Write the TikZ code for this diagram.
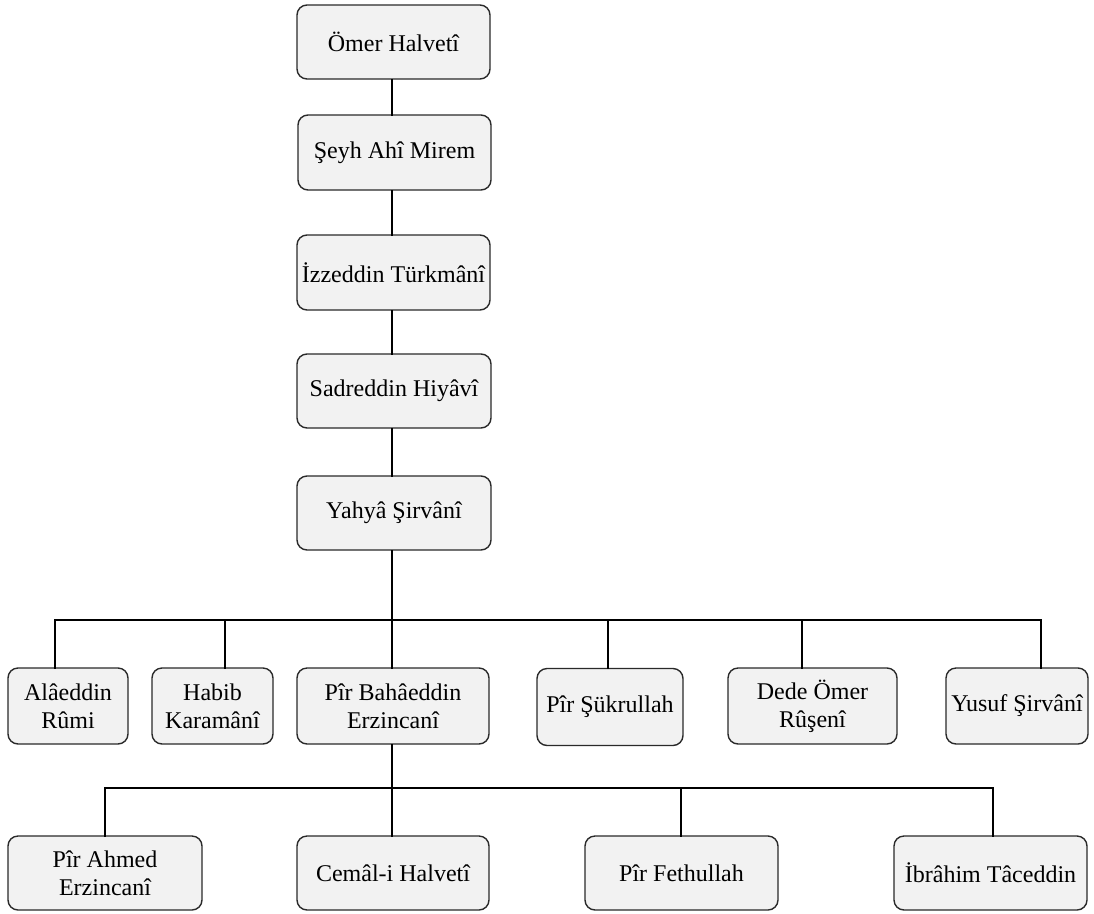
\documentclass[tikz,border=0pt]{standalone}
\usepackage{fontspec}
\setmainfont{Liberation Serif}
\definecolor{boxfill}{HTML}{F2F2F2}
\definecolor{boxline}{HTML}{2A2A2A}
\begin{document}
\begin{tikzpicture}[x=1pt,y=-1pt,
  box/.style={draw=boxline, line width=1.4pt, fill=boxfill, rounded corners=10pt,
    inner sep=0pt, align=center, font=\fontsize{24}{28}\selectfont},
  conn/.style={line width=2.4pt, black, line cap=rect}]
\useasboundingbox (0,0) rectangle (1094,913);
% central column
\node[box, minimum width=193, minimum height=74] (omer) at (393.5,42) {Ömer Halvetî};
\node[box, minimum width=193, minimum height=75] (seyh) at (394.5,152.5) {Şeyh Ahî Mirem};
\node[box, minimum width=193, minimum height=75] (izz) at (393.5,272.5) {İzzeddin Türkmânî};
\node[box, minimum width=194, minimum height=74] (sadr) at (394,391) {Sadreddin Hiyâvî};
\node[box, minimum width=194, minimum height=74] (yahya) at (394,513) {Yahyâ Şirvânî};
% level 2
\node[box, minimum width=120, minimum height=76] (alaeddin) at (68,706) {Alâeddin\\Rûmi};
\node[box, minimum width=121, minimum height=76] (habib) at (212.5,706) {Habib\\Karamânî};
\node[box, minimum width=192, minimum height=76] (bahaeddin) at (393,706) {Pîr Bahâeddin\\Erzincanî};
\node[box, minimum width=146, minimum height=77] (sukrullah) at (610,707) {Pîr Şükrullah};
\node[box, minimum width=169, minimum height=76] (dede) at (812.5,706) {Dede Ömer\\Rûşenî};
\node[box, minimum width=142, minimum height=76] (yusuf) at (1017,706) {Yusuf Şirvânî};
% level 3
\node[box, minimum width=194, minimum height=74] (ahmed) at (105,873) {Pîr Ahmed\\Erzincanî};
\node[box, minimum width=192, minimum height=74] (cemal) at (393,873) {Cemâl-i Halvetî};
\node[box, minimum width=193, minimum height=74] (fethullah) at (681.5,873) {Pîr Fethullah};
\node[box, minimum width=193, minimum height=74] (ibrahim) at (990.5,873) {İbrâhim Tâceddin};
% central connectors
\coordinate (cx) at (392,0);
\draw[conn] (omer.south -| cx) -- (seyh.north -| cx);
\draw[conn] (seyh.south -| cx) -- (izz.north -| cx);
\draw[conn] (izz.south -| cx) -- (sadr.north -| cx);
\draw[conn] (sadr.south -| cx) -- (yahya.north -| cx);
% first bar
\coordinate (ba) at (55,620);
\coordinate (bb) at (225,620);
\coordinate (bc) at (392,620);
\coordinate (bd) at (608,620);
\coordinate (be) at (802,620);
\coordinate (bf) at (1041,620);
\draw[conn] (yahya.south -| bc) -- (bc);
\draw[conn] (ba) -- (bf);
\draw[conn] (ba) -- (ba |- alaeddin.north);
\draw[conn] (bb) -- (bb |- habib.north);
\draw[conn] (bc) -- (bc |- bahaeddin.north);
\draw[conn] (bd) -- (bd |- sukrullah.north);
\draw[conn] (be) -- (be |- dede.north);
\draw[conn] (bf) -- (bf |- yusuf.north);
% second bar
\coordinate (ca) at (105,788);
\coordinate (cb) at (392,788);
\coordinate (cc) at (681,788);
\coordinate (cd) at (993,788);
\draw[conn] (bahaeddin.south -| cb) -- (cb);
\draw[conn] (ca) -- (cd);
\draw[conn] (ca) -- (ca |- ahmed.north);
\draw[conn] (cb) -- (cb |- cemal.north);
\draw[conn] (cc) -- (cc |- fethullah.north);
\draw[conn] (cd) -- (cd |- ibrahim.north);
\end{tikzpicture}
\end{document}
